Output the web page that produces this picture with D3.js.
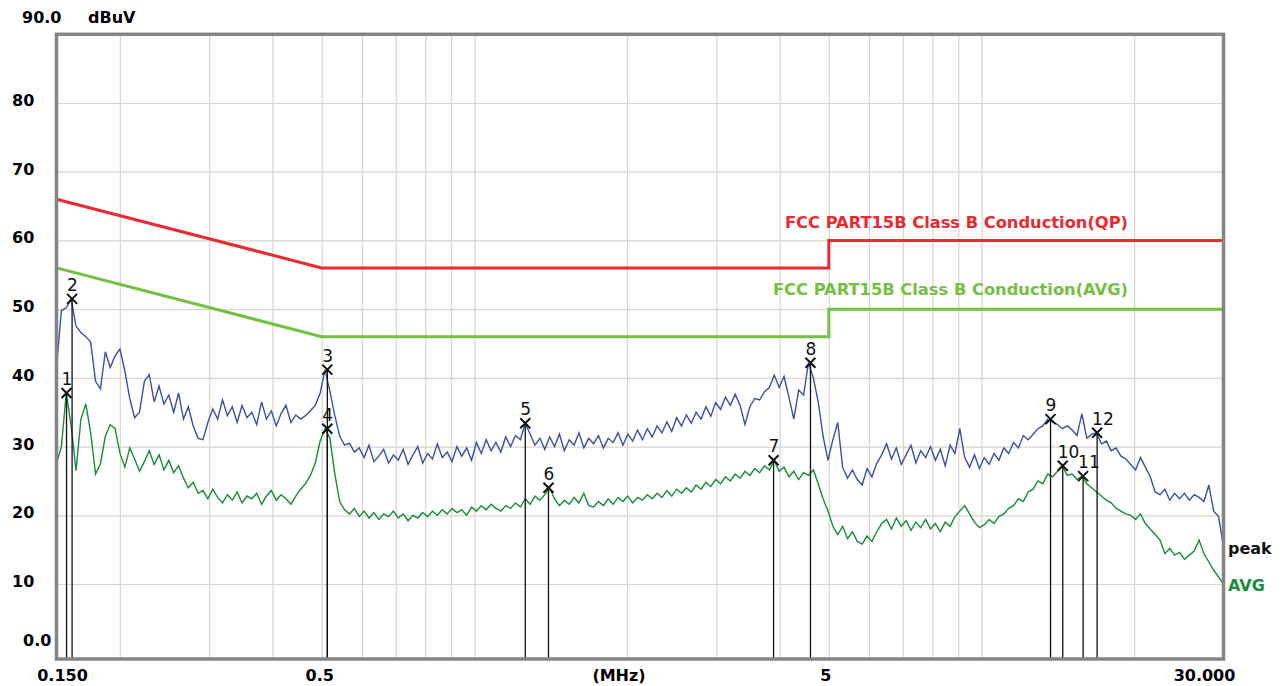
<!DOCTYPE html>
<html>
<head>
<meta charset="utf-8">
<script src="https://cdn.jsdelivr.net/npm/d3@7"></script>
<style>
	html, body { margin: 0; padding: 0; background: #fff; }
	svg { display: block; }
	text { font-family: "DejaVu Sans", sans-serif; }
</style>
</head>
<body>
<svg id="chart" width="1284" height="686"></svg>
<script>
// sweep: 0.15 - 30 MHz, 240 points, log spaced
var sweepStart = 0.15,
	sweepStop = 30;

// peak detector trace (dBuV)
var peakLevels = [
	41.5, 49.8, 50.2, 51.5, 47.5, 46.6, 46.0, 45.2, 39.5, 38.4,
	43.8, 41.5, 43.2, 44.2, 41.0, 37.0, 34.2, 35.0, 39.5, 40.5,
	36.5, 38.8, 36.2, 37.5, 35.0, 37.8, 34.0, 35.8, 33.0, 31.2,
	31.0, 33.5, 35.5, 34.0, 36.8, 34.5, 35.8, 33.5, 36.0, 34.2,
	35.0, 33.2, 36.5, 34.0, 35.2, 33.0, 34.8, 36.0, 33.5, 34.6,
	34.0, 34.5, 35.2, 36.0, 37.8, 41.2, 38.0, 34.5, 31.5, 30.2,
	30.5, 29.2, 29.8, 28.4, 30.2, 27.8, 28.6, 29.6, 27.6, 28.8,
	28.0, 29.6, 27.4, 28.8, 30.0, 27.6, 29.0, 28.2, 30.4, 28.4,
	29.2, 27.8, 30.0, 28.6, 29.8, 28.0, 30.6, 29.0, 31.0, 29.4,
	30.6, 29.2, 31.4, 30.0, 31.6, 31.0, 33.4, 31.8, 30.2, 31.2,
	29.6, 31.4, 30.0, 31.8, 29.4, 31.0, 30.2, 32.0, 29.8, 31.2,
	30.4, 31.6, 29.8, 31.2, 30.6, 32.0, 30.2, 31.8, 30.8, 32.4,
	31.0, 32.6, 31.4, 33.0, 32.0, 33.6, 32.2, 34.2, 33.0, 34.6,
	33.4, 35.0, 34.0, 35.8, 34.4, 36.4, 35.4, 37.2, 36.0, 37.6,
	36.0, 33.2, 35.8, 37.0, 36.8, 38.0, 38.6, 40.4, 38.6, 40.2,
	37.2, 34.0, 38.2, 37.5, 42.2, 40.0, 36.5, 31.5, 28.0, 31.0,
	33.5, 27.0, 25.4, 26.6, 25.2, 24.4, 26.8, 25.6, 27.6, 28.8,
	30.4, 28.2, 29.8, 27.4, 28.8, 30.2, 27.6, 29.4, 28.4, 30.0,
	28.0, 29.6, 27.2, 30.2, 29.0, 32.6, 28.4, 27.0, 28.8, 26.8,
	28.4, 27.4, 29.0, 28.0, 29.8, 29.0, 30.6, 29.8, 31.6, 31.0,
	31.8, 32.6, 33.0, 34.0, 33.6, 33.2, 32.6, 33.0, 32.4, 31.6,
	34.8, 31.2, 31.8, 32.0, 30.4, 30.8, 29.4, 29.8, 28.6, 28.2,
	27.4, 26.6, 28.4, 27.0, 25.6, 23.4, 23.0, 23.8, 22.2, 23.2,
	22.4, 23.2, 22.2, 23.0, 22.6, 22.0, 24.4, 20.6, 19.8, 15.4
];

// average detector trace (dBuV)
var avgLevels = [
	27.5, 30.0, 37.8, 33.0, 26.5, 34.0, 36.2, 32.0, 26.0, 27.5,
	31.5, 33.2, 32.6, 29.0, 27.0, 29.8, 28.2, 26.4, 27.8, 29.4,
	27.4, 28.8, 26.6, 28.0, 26.2, 27.2, 25.4, 24.0, 24.8, 23.2,
	23.6, 22.4, 23.8, 22.6, 21.8, 23.0, 22.2, 23.4, 21.8, 22.8,
	22.4, 23.2, 21.6, 22.8, 23.6, 22.2, 23.0, 22.4, 21.6, 22.8,
	23.8, 24.6, 25.8, 27.6, 30.8, 32.6, 31.2, 26.0, 22.0, 20.8,
	20.2, 21.0, 19.8, 20.6, 19.6, 20.4, 19.4, 20.2, 19.8, 20.6,
	19.6, 20.2, 19.2, 20.0, 19.6, 20.4, 19.8, 20.6, 20.0, 20.8,
	20.2, 21.0, 20.4, 20.8, 20.0, 21.2, 20.6, 21.4, 20.8, 21.6,
	21.0, 20.6, 21.4, 21.0, 21.8, 21.2, 22.4, 21.6, 22.8, 22.2,
	23.0, 24.0, 22.4, 21.4, 22.2, 21.6, 22.6, 21.8, 23.2, 21.4,
	21.2, 22.0, 21.4, 22.4, 21.6, 22.6, 22.0, 22.8, 21.8, 22.6,
	22.2, 23.0, 22.4, 23.2, 22.6, 23.6, 22.8, 23.8, 23.2, 24.0,
	23.4, 24.4, 23.8, 24.8, 24.2, 25.2, 24.6, 25.6, 25.0, 26.0,
	25.4, 26.4, 25.8, 26.8, 26.2, 27.2, 26.6, 28.0, 26.4, 27.0,
	25.6, 26.4, 25.2, 26.2, 25.8, 26.6, 24.6, 22.4, 20.6, 18.4,
	17.2, 18.4, 16.6, 17.6, 16.2, 15.8, 17.0, 16.2, 17.6, 18.8,
	19.4, 18.0, 19.6, 18.4, 19.2, 17.8, 19.0, 18.2, 19.4, 18.0,
	18.8, 17.6, 19.0, 18.4, 19.8, 20.6, 21.4, 20.2, 19.0, 18.2,
	18.6, 19.4, 18.8, 19.8, 20.2, 21.0, 21.4, 22.4, 22.0, 23.4,
	23.8, 25.0, 24.6, 26.0, 25.6, 26.4, 27.2, 25.8, 26.0, 25.2,
	25.7, 24.6, 24.0, 23.4, 22.8, 22.2, 21.8, 21.0, 20.6, 20.2,
	20.0, 19.4, 20.2, 18.8, 18.0, 17.2, 16.4, 14.4, 15.2, 14.2,
	14.6, 13.6, 14.2, 14.8, 16.4, 14.4, 13.2, 12.0, 11.0, 10.0
];

// FCC Part 15B class B limits
var limitFreq = [0.15, 0.5, 5, 5, 30];
var qpLimit = [66, 56, 56, 60, 60];
var avgLimit = [56, 46, 46, 50, 50];

// measured markers
var markerFreq = [0.157, 0.161, 0.513, 0.513, 1.26, 1.40, 3.89, 4.60, 13.68, 14.46, 15.86, 16.9];
var markerLevel = [37.8, 51.5, 41.2, 32.6, 33.4, 24.0, 28.0, 42.2, 34.0, 27.2, 25.7, 32.0];

var yGrid = [10, 20, 30, 40, 50, 60, 70, 80];
var xGrid = [0.2, 0.3, 0.4, 0.5, 0.6, 0.7, 0.8, 0.9, 1, 2, 3, 4, 5, 6, 7, 8, 9, 10, 20];
var xLabels = ["0.150", "0.5", "5", "30.000"];
var xLabelFreq = [0.15, 0.5, 5, 30];

var plotLeft = 56.5, plotRight = 1223.5, plotTop = 34.3, plotZero = 652.7, plotBottom = 659;

var svg = d3.select("#chart");

var x = d3.scaleLog().domain([sweepStart, sweepStop]).range([plotLeft, plotRight]);
var y = d3.scaleLinear().domain([0, 90]).range([plotZero, plotTop]);

var n = peakLevels.length;
var sweepFreq = d3.range(n).map(function(i) {
	return sweepStart * Math.pow(sweepStop / sweepStart, i / (n - 1));
});

// grid
svg.append("g")
	.attr("class", "grid")
	.attr("transform", "translate(" + plotLeft + ",0)")
	.call(d3.axisLeft(y).tickValues(yGrid).tickSize(-(plotRight - plotLeft)).tickFormat(""))
	.call(function(g) {
		g.select(".domain").remove();
		g.selectAll("line").attr("stroke", "#d9d5cc").attr("stroke-width", 1.2);
	});

svg.append("g")
	.attr("class", "grid")
	.attr("transform", "translate(0," + plotBottom + ")")
	.call(d3.axisBottom(x).tickValues(xGrid).tickSize(-(plotBottom - plotTop)).tickFormat(""))
	.call(function(g) {
		g.select(".domain").remove();
		g.selectAll("line").attr("stroke", "#d9d5cc").attr("stroke-width", 1.2);
	});

// limit lines
var line = d3.line()
	.x(function(d) { return x(d[0]); })
	.y(function(d) { return y(d[1]); });

svg.append("path")
	.datum(d3.zip(limitFreq, qpLimit))
	.attr("d", line)
	.attr("fill", "none")
	.attr("stroke", "#ea2a30")
	.attr("stroke-width", 3);

svg.append("path")
	.datum(d3.zip(limitFreq, avgLimit))
	.attr("d", line)
	.attr("fill", "none")
	.attr("stroke", "#74c043")
	.attr("stroke-width", 3);

// traces
svg.append("path")
	.datum(d3.zip(sweepFreq, avgLevels))
	.attr("d", line)
	.attr("fill", "none")
	.attr("stroke", "#178c3a")
	.attr("stroke-width", 1.4);

svg.append("path")
	.datum(d3.zip(sweepFreq, peakLevels))
	.attr("d", line)
	.attr("fill", "none")
	.attr("stroke", "#3d4fa6")
	.attr("stroke-width", 1.4);

// markers
var markers = d3.zip(markerFreq, markerLevel);

svg.selectAll("line.mk")
	.data(markers)
	.enter()
	.append("line")
	.attr("class", "mk")
	.attr("x1", function(d) { return x(d[0]); })
	.attr("x2", function(d) { return x(d[0]); })
	.attr("y1", function(d) { return y(d[1]); })
	.attr("y2", plotBottom)
	.attr("stroke", "#111")
	.attr("stroke-width", 1.3);

svg.selectAll("path.mx")
	.data(markers)
	.enter()
	.append("path")
	.attr("class", "mx")
	.attr("d", function(d) {
		var cx = x(d[0]), cy = y(d[1]), r = 5;
		return "M" + (cx - r) + "," + (cy - r) + "L" + (cx + r) + "," + (cy + r)
			+ "M" + (cx - r) + "," + (cy + r) + "L" + (cx + r) + "," + (cy - r);
	})
	.attr("stroke", "#111")
	.attr("stroke-width", 2)
	.attr("fill", "none");

svg.selectAll("text.mn")
	.data(markers)
	.enter()
	.append("text")
	.attr("class", "mn")
	.attr("x", function(d) { return x(d[0]) - 5; })
	.attr("y", function(d) { return y(d[1]) - 8; })
	.attr("font-size", 17)
	.attr("fill", "#111")
	.text(function(d, i) { return i + 1; });

// frame
svg.append("rect")
	.attr("x", plotLeft)
	.attr("y", plotTop)
	.attr("width", plotRight - plotLeft)
	.attr("height", plotBottom - plotTop)
	.attr("fill", "none")
	.attr("stroke", "#858585")
	.attr("stroke-width", 3.5);

// y labels
svg.selectAll("text.yl")
	.data(yGrid)
	.enter()
	.append("text")
	.attr("class", "yl")
	.attr("x", 12)
	.attr("y", function(d) { return y(d) + 3; })
	.attr("font-size", 16)
	.attr("font-weight", "bold")
	.text(function(d) { return d; });

svg.append("text")
	.attr("x", 22).attr("y", y(90) - 11)
	.attr("font-size", 16).attr("font-weight", "bold")
	.text("90.0");

svg.append("text")
	.attr("x", 88).attr("y", y(90) - 11)
	.attr("font-size", 16).attr("font-weight", "bold")
	.text("dBuV");

svg.append("text")
	.attr("x", 23).attr("y", y(0) - 7)
	.attr("font-size", 16).attr("font-weight", "bold")
	.text("0.0");

// x labels
var xShift = [6, -2, -3, -19];
svg.selectAll("text.xl")
	.data(xLabels)
	.enter()
	.append("text")
	.attr("class", "xl")
	.attr("x", function(d, i) { return x(xLabelFreq[i]) + xShift[i]; })
	.attr("y", 681)
	.attr("text-anchor", "middle")
	.attr("font-size", 16)
	.attr("font-weight", "bold")
	.text(function(d) { return d; });

svg.append("text")
	.attr("x", 619).attr("y", 681)
	.attr("text-anchor", "middle")
	.attr("font-size", 16).attr("font-weight", "bold")
	.text("(MHz)");

// limit legends
svg.append("text")
	.attr("x", 785).attr("y", 228)
	.attr("font-size", 16).attr("font-weight", "bold")
	.attr("fill", "#ea2a30")
	.attr("textLength", 343).attr("lengthAdjust", "spacingAndGlyphs")
	.text("FCC PART15B Class B Conduction(QP)");

svg.append("text")
	.attr("x", 773).attr("y", 295)
	.attr("font-size", 16).attr("font-weight", "bold")
	.attr("fill", "#74c043")
	.attr("textLength", 355).attr("lengthAdjust", "spacingAndGlyphs")
	.text("FCC PART15B Class B Conduction(AVG)");

// trace names
svg.append("text")
	.attr("x", 1228).attr("y", 554)
	.attr("font-size", 16).attr("font-weight", "bold")
	.attr("fill", "#111")
	.text("peak");

svg.append("text")
	.attr("x", 1228).attr("y", 591)
	.attr("font-size", 16).attr("font-weight", "bold")
	.attr("fill", "#178c3a")
	.text("AVG");
</script>
</body>
</html>
